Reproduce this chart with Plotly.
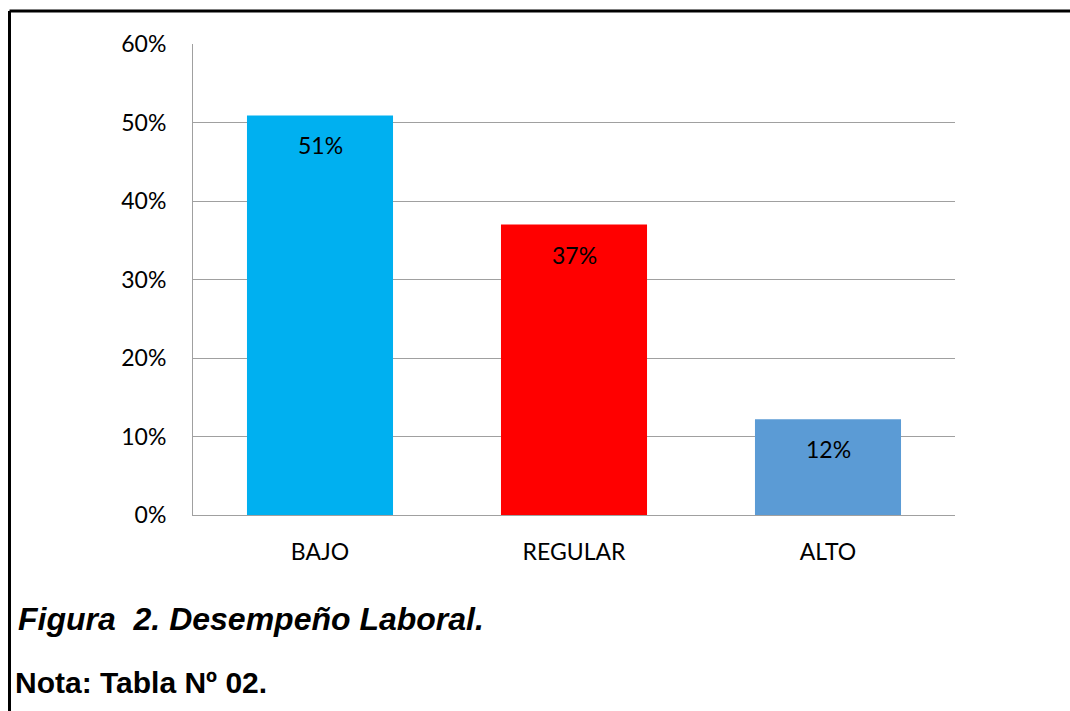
import plotly.graph_objects as go

categories = ["BAJO", "REGULAR", "ALTO"]
values = [0.509, 0.37, 0.122]
labels = ["51%", "37%", "12%"]
colors = ["#00B0F0", "#FF0000", "#5B9BD5"]
tick_vals = [0, 0.1, 0.2, 0.3, 0.4, 0.5, 0.6]
tick_text = ["0%", "10%", "20%", "30%", "40%", "50%", "60%"]

W, H = 1070, 711
L, R, T, B = 193, 955, 44, 515

fig = go.Figure()
fig.add_trace(go.Bar(
    x=categories, y=values, marker=dict(color=colors, line=dict(width=0)),
    width=0.575, showlegend=False, hoverinfo="skip"
))

for c, v, t in zip(categories, values, labels):
    fig.add_annotation(x=c, y=v, text=t, showarrow=False, yshift=-30,
                       font=dict(family="Lato, Open Sans, sans-serif", size=23, color="#000"))

def px_x(p):
    return (p - L) / (R - L)

def px_y(p):
    return (B - p) / (B - T)

# border lines (left and top)
fig.add_shape(type="line", xref="paper", yref="paper",
              x0=px_x(9.5), x1=px_x(1075), y0=px_y(11), y1=px_y(11),
              line=dict(color="black", width=3))
fig.add_shape(type="line", xref="paper", yref="paper",
              x0=px_x(9.5), x1=px_x(9.5), y0=px_y(11), y1=px_y(720),
              line=dict(color="black", width=3))

fig.add_annotation(xref="paper", yref="paper", x=px_x(16), y=px_y(619),
                   xanchor="left", yanchor="middle", showarrow=False,
                   text="<b><i>Figura  2. Desempeño Laboral.</i></b>",
                   font=dict(family="Liberation Sans, Arial, sans-serif", size=32, color="#000"))
fig.add_annotation(xref="paper", yref="paper", x=px_x(13), y=px_y(682),
                   xanchor="left", yanchor="middle", showarrow=False,
                   text="<b>Nota: Tabla Nº 02.</b>",
                   font=dict(family="Liberation Sans, Arial, sans-serif", size=30, color="#000"))

fig.update_layout(
    width=W, height=H,
    margin=dict(l=L, r=W - R, t=T, b=H - B, pad=0),
    paper_bgcolor="white", plot_bgcolor="white",
    bargap=0.425,
    font=dict(family="Lato, Open Sans, sans-serif", size=23, color="#000"),
    xaxis=dict(showgrid=False, showline=True, linecolor="#a0a0a0", linewidth=1,
               ticks="", ticklabelstandoff=16, tickfont=dict(size=23),
               range=[-0.5, 2.5], fixedrange=True),
    yaxis=dict(range=[0, 0.6], tickvals=tick_vals, ticktext=tick_text,
               showgrid=True, gridcolor="#a0a0a0", gridwidth=1,
               showline=True, linecolor="#a0a0a0", linewidth=1,
               zeroline=False, ticks="", ticklabelstandoff=21,
               tickfont=dict(size=23), fixedrange=True),
)

fig.write_html("out.html")
